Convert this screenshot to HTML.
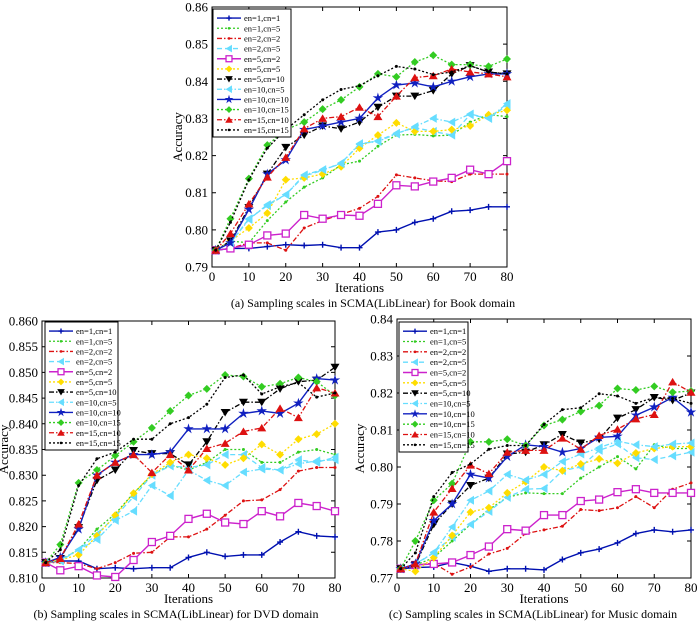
<!DOCTYPE html>
<html><head><meta charset="utf-8"><style>
html,body{margin:0;padding:0;background:#fff;}
svg{display:block;font-family:"Liberation Serif",serif;}
</style></head><body>
<svg id="fig" width="700" height="622" viewBox="0 0 700 622" xmlns="http://www.w3.org/2000/svg"></svg>
<script>
const iterations = [1,5,10,15,20,25,30,35,40,45,50,55,60,65,70,75,80];
const seriesLabels = ["en=1,cn=1","en=1,cn=5","en=2,cn=2","en=2,cn=5","en=5,cn=2","en=5,cn=5","en=5,cn=10","en=10,cn=5","en=10,cn=10","en=10,cn=15","en=15,cn=10","en=15,cn=15"];
const bookSeries = [
[.7945,.795,.795,.7955,.796,.7958,.796,.7952,.7952,.7994,.800,.802,.803,.805,.8053,.8062,.8062],
[.7945,.797,.7965,.8025,.8075,.8115,.814,.8175,.8185,.8225,.8255,.8257,.8253,.8255,.829,.831,.8305],
[.7945,.795,.7965,.7965,.7945,.8005,.8025,.8042,.8058,.809,.8148,.814,.8132,.813,.815,.815,.815],
[.7945,.7965,.803,.8065,.8095,.8145,.816,.818,.823,.824,.826,.8275,.8265,.8255,.831,.830,.8335],
[.7945,.795,.796,.7985,.799,.804,.803,.804,.8038,.807,.812,.8117,.813,.814,.8162,.815,.8185],
[.7945,.797,.8005,.8045,.8135,.814,.815,.817,.822,.8255,.8288,.8265,.8265,.827,.828,.831,.8322],
[.7945,.797,.806,.815,.8222,.8255,.828,.8272,.829,.833,.836,.836,.8375,.842,.8442,.8425,.842],
[.7945,.7965,.8028,.8068,.8095,.8148,.8162,.8178,.8232,.8238,.8258,.8278,.830,.829,.8312,.830,.834],
[.7945,.7965,.8055,.815,.8188,.827,.828,.829,.830,.8355,.839,.8395,.8385,.840,.8412,.842,.842],
[.7945,.803,.8138,.8228,.827,.829,.8325,.835,.8385,.842,.8412,.8452,.847,.8445,.8445,.844,.846],
[.7945,.799,.807,.8142,.8195,.8272,.830,.8305,.833,.8305,.836,.841,.8415,.8433,.8425,.842,.8412],
[.7945,.802,.8135,.822,.827,.831,.835,.8378,.8388,.8415,.844,.8433,.8418,.8425,.8442,.8425,.842]];
const dvdSeries = [
[.813,.8133,.8133,.8118,.812,.8118,.812,.812,.814,.815,.8142,.8145,.8145,.817,.819,.8182,.818],
[.813,.8135,.8155,.8195,.8225,.8265,.830,.832,.831,.8325,.835,.835,.8325,.8325,.8345,.835,.834],
[.813,.813,.8128,.8118,.813,.8148,.815,.818,.818,.8195,.8222,.825,.8252,.8272,.8308,.8315,.8315],
[.813,.8135,.8155,.8185,.822,.8258,.830,.8318,.8315,.832,.834,.834,.8315,.831,.833,.8325,.8335],
[.813,.8115,.8123,.8105,.8102,.8135,.817,.8182,.8215,.8225,.8208,.8205,.823,.822,.8246,.824,.823],
[.813,.8135,.8145,.8182,.8222,.8265,.8302,.8325,.834,.8333,.832,.8333,.836,.834,.837,.838,.840],
[.813,.8138,.8198,.829,.831,.8348,.8342,.8342,.832,.8365,.8422,.8442,.8442,.8468,.8482,.8485,.851],
[.813,.8133,.8155,.8175,.8212,.823,.828,.826,.831,.829,.828,.8306,.8312,.831,.8322,.8328,.833],
[.813,.814,.8195,.830,.8325,.834,.834,.8345,.839,.839,.839,.842,.8425,.842,.844,.8488,.8485],
[.813,.8165,.8285,.831,.8338,.8365,.8392,.8425,.8455,.8468,.8495,.8492,.8472,.8478,.849,.8482,.8455],
[.813,.8138,.8205,.830,.8325,.834,.8305,.834,.831,.8352,.8362,.8385,.8392,.843,.8412,.847,.846],
[.813,.8155,.828,.8332,.8345,.837,.837,.840,.8412,.8438,.849,.8495,.8458,.8472,.848,.8452,.846]];
const musicSeries = [
[.7725,.7728,.773,.7742,.7732,.7718,.7725,.7725,.7722,.775,.7768,.7778,.7795,.782,.783,.7825,.783],
[.7725,.7735,.7755,.780,.7845,.7885,.7918,.793,.7928,.7928,.797,.800,.8028,.7995,.806,.805,.805],
[.7725,.7735,.774,.771,.773,.7765,.778,.782,.783,.784,.7885,.7882,.789,.792,.789,.794,.7957],
[.7725,.7735,.777,.781,.7845,.788,.7918,.794,.7942,.799,.800,.8045,.8062,.8025,.802,.803,.804],
[.7725,.7735,.7738,.7742,.7762,.7785,.7832,.7828,.787,.787,.7908,.7912,.7932,.794,.793,.793,.793],
[.7725,.7718,.7755,.7815,.7878,.789,.793,.796,.800,.799,.8008,.8022,.801,.8038,.805,.8055,.8055],
[.7725,.7735,.7845,.790,.795,.797,.8035,.804,.806,.8088,.8065,.8075,.8132,.8155,.8188,.818,.820],
[.7725,.7738,.7768,.7838,.791,.7935,.798,.7965,.798,.8015,.8035,.8052,.807,.806,.8055,.8062,.8065],
[.7725,.7738,.7855,.790,.798,.797,.8028,.806,.8055,.804,.805,.808,.8083,.814,.8162,.8188,.8148],
[.7725,.780,.791,.7955,.8068,.8068,.8075,.8058,.8112,.8128,.815,.8166,.8212,.8208,.8218,.8202,.8205],
[.7725,.7738,.7878,.7942,.8005,.7982,.804,.8045,.8045,.8078,.8048,.8085,.8102,.813,.8142,.823,.8202],
[.7725,.7768,.792,.7985,.8008,.8048,.8058,.8058,.8115,.8155,.816,.8198,.8192,.8172,.8188,.8185,.8172]];
const xTicks = [0,10,20,30,40,50,60,70,80];
const bookYTicks = [0.79,0.80,0.81,0.82,0.83,0.84,0.85,0.86];
const dvdYTicks = [0.810,0.815,0.820,0.825,0.830,0.835,0.840,0.845,0.850,0.855,0.860];
const musicYTicks = [0.77,0.78,0.79,0.80,0.81,0.82,0.83,0.84];

const styles = [
 {c:"#0010b0",d:"",m:"plus",w:1.4},
 {c:"#33cc22",d:"2,2",m:"dot",w:1.3},
 {c:"#dd1111",d:"5,2,1.5,2",m:"dot",w:1.3},
 {c:"#66ddff",d:"5,3",m:"ltri",w:1.3},
 {c:"#cc22cc",d:"",m:"sq",w:1.4},
 {c:"#ffdd00",d:"2,2",m:"dia",w:1.3},
 {c:"#000000",d:"5,2,1.5,2",m:"vtri",w:1.3},
 {c:"#66ddff",d:"5,2,1.5,2",m:"ltri",w:1.3},
 {c:"#1020c0",d:"",m:"star",w:1.4},
 {c:"#33cc22",d:"2,2",m:"dia",w:1.3},
 {c:"#dd1111",d:"5,2,1.5,2",m:"tri",w:1.3},
 {c:"#000000",d:"2,2",m:"dot",w:1.3}];

const NS="http://www.w3.org/2000/svg";
const svg=document.getElementById('fig');
function mk(tag,attrs,parent){const e=document.createElementNS(NS,tag);for(const k in attrs)e.setAttribute(k,attrs[k]);(parent||svg).appendChild(e);return e;}

function marker(g,m,x,y,c,s){
 s=s||1;let e;
 if(m==="plus"){e=mk('path',{d:`M${x-3*s},${y}H${x+3*s}M${x},${y-3*s}V${y+3*s}`,stroke:c,'stroke-width':1.4,fill:'none'},g);}
 else if(m==="dot"){e=mk('circle',{cx:x,cy:y,r:1.5*s,fill:c},g);}
 else if(m==="sq"){e=mk('rect',{x:x-3.5*s,y:y-3.5*s,width:7*s,height:7*s,fill:'#fff',stroke:c,'stroke-width':1.3},g);}
 else if(m==="dia"){e=mk('path',{d:`M${x},${y-4*s}L${x+4*s},${y}L${x},${y+4*s}L${x-4*s},${y}Z`,fill:c},g);}
 else if(m==="vtri"){e=mk('path',{d:`M${x-4.5*s},${y-3.5*s}L${x+4.5*s},${y-3.5*s}L${x},${y+4*s}Z`,fill:c},g);}
 else if(m==="tri"){e=mk('path',{d:`M${x-4.5*s},${y+3.5*s}L${x+4.5*s},${y+3.5*s}L${x},${y-4*s}Z`,fill:c},g);}
 else if(m==="ltri"){e=mk('path',{d:`M${x+3.5*s},${y-4.5*s}L${x+3.5*s},${y+4.5*s}L${x-4*s},${y}Z`,fill:c},g);}
 else if(m==="star"){let p="";for(let i=0;i<10;i++){const r=(i%2?2:5.5)*s,a=-Math.PI/2+i*Math.PI/5;p+=(i?"L":"M")+(x+r*Math.cos(a)).toFixed(1)+","+(y+r*Math.sin(a)).toFixed(1);}e=mk('path',{d:p+"Z",fill:c},g);}
 
 
}

function chart(id,box,series,yTicks,dec,caption,capX,legendBox,ylabX){
 const g=mk('g',{});
 
 
 const y0=yTicks[0],y1=yTicks[yTicks.length-1];
 const X=v=>box.l+(v-0)/80*(box.r-box.l);
 const Y=v=>box.b-(v-y0)/(y1-y0)*(box.b-box.t);
 const frame=mk('rect',{x:box.l,y:box.t,width:box.r-box.l,height:box.b-box.t,fill:'#fff',stroke:'#000','stroke-width':1},g);
 
 
 xTicks.forEach(t=>{const x=X(t);
  mk('path',{d:`M${x},${box.b}v-4M${x},${box.t}v4`,stroke:'#000','stroke-width':1},g);
  const tx=mk('text',{x:x,y:box.b+14,'font-size':13,'text-anchor':'middle'},g);tx.textContent=t;
  
  });
 yTicks.forEach(t=>{const y=Y(t);
  mk('path',{d:`M${box.l},${y}h4M${box.r},${y}h-4`,stroke:'#000','stroke-width':1},g);
  const tx=mk('text',{x:box.l-4,y:y+4.5,'font-size':13,'text-anchor':'end'},g);tx.textContent=t.toFixed(dec);
  
  });
 const xl=mk('text',{x:(box.l+box.r)/2,y:box.b+25,'font-size':13,'text-anchor':'middle'},g);xl.textContent="Iterations";
 
 
 const yl=mk('text',{x:0,y:0,'font-size':13,'text-anchor':'middle',transform:`translate(${ylabX},${(box.t+box.b)/2}) rotate(-90)`},g);yl.textContent="Accuracy";
 
 
 const cp=mk('text',{x:capX,y:box.b+40,'font-size':12,'text-anchor':'middle'},g);cp.textContent=caption;
 
 
 series.forEach((vals,i)=>{const st=styles[i];
  const sg=mk('g',{},g);
  
  
  const pts=vals.map((v,j)=>X(iterations[j]).toFixed(1)+","+Y(v).toFixed(1)).join(" ");
  const pl=mk('polyline',{points:pts,fill:'none',stroke:st.c,'stroke-width':st.w,'stroke-dasharray':st.d},sg);
  
  
  vals.forEach((v,j)=>marker(sg,st.m,X(iterations[j]),Y(v),st.c));
 });
 const lg=mk('g',{},g);
 
 
 mk('rect',{x:legendBox.x,y:legendBox.y,width:legendBox.w,height:legendBox.h,fill:'#fff',stroke:'#000','stroke-width':1},lg);
 const step=(legendBox.h-6)/12;
 seriesLabels.forEach((lab,i)=>{const st=styles[i];const y=legendBox.y+4+step*(i+0.5);
  const e=mk('g',{},lg);
  
  
  mk('line',{x1:legendBox.x+4,x2:legendBox.x+28,y1:y,y2:y,stroke:st.c,'stroke-width':st.w,'stroke-dasharray':st.d},e);
  marker(e,st.m,legendBox.x+16,y,st.c,0.85);
  const t=mk('text',{x:legendBox.x+31,y:y+3,'font-size':8.5},e);t.textContent=lab;
 });
}
chart('book',{l:212,r:507,t:7,b:267},bookSeries,bookYTicks,2,"(a) Sampling scales in SCMA(LibLinear) for Book domain",373,{x:213,y:9,w:78,h:128},182);
chart('dvd',{l:42,r:335,t:321,b:578},dvdSeries,dvdYTicks,3,"(b) Sampling scales in SCMA(LibLinear) for DVD domain",176,{x:45,y:322,w:73,h:128},8);
chart('music',{l:397,r:691,t:319,b:578},musicSeries,musicYTicks,2,"(c) Sampling scales in SCMA(LibLinear) for Music domain",533,{x:399,y:322,w:69,h:130},364);
</script>
</body></html>
